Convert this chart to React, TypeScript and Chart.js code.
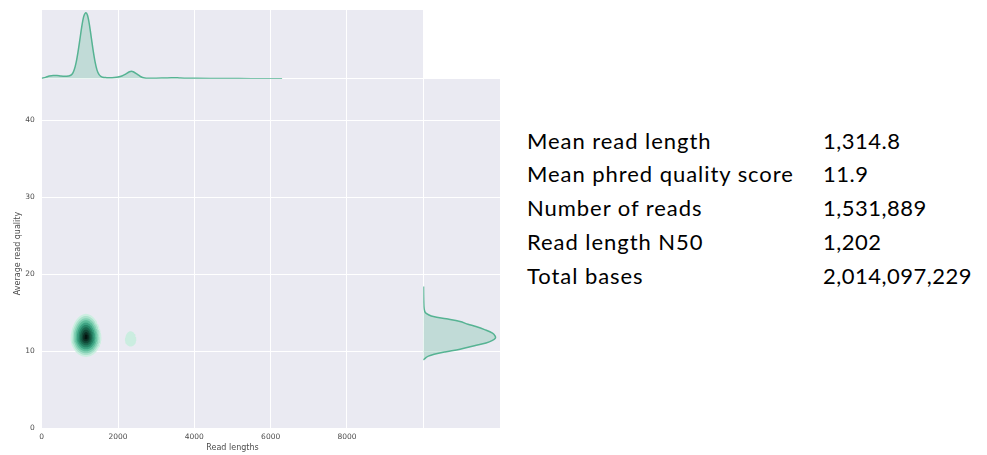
import React, { useEffect, useRef } from 'react';
import { Chart, registerables } from 'chart.js';

Chart.register(...registerables);

// ---------- data ----------
const lengthTicks = [0, 2000, 4000, 6000, 8000];
const lengthMax = 10000;
const qualityTicks = [0, 10, 20, 30, 40];
const qualityMax = 45.4;

// top marginal KDE of read length (relative density, peak = 1)
const topLengths = [0, 100, 200, 300, 400, 500, 600, 700, 800, 850, 900, 950, 1000, 1050, 1100, 1160, 1200, 1250, 1300, 1350, 1400, 1450, 1500, 1550, 1600, 1700, 1800, 1900, 2000, 2100, 2200, 2300, 2350, 2400, 2500, 2600, 2700, 2800, 3000, 3200, 3400, 3500, 3600, 3800, 4000, 4500, 5000, 5500, 6000, 6300];
const topDensity = [0.005, 0.02, 0.04, 0.05, 0.048, 0.04, 0.036, 0.04, 0.07, 0.13, 0.24, 0.4, 0.59, 0.79, 0.94, 1.0, 0.96, 0.82, 0.62, 0.42, 0.25, 0.13, 0.065, 0.035, 0.022, 0.016, 0.015, 0.018, 0.025, 0.04, 0.07, 0.105, 0.113, 0.105, 0.07, 0.03, 0.012, 0.008, 0.007, 0.01, 0.014, 0.015, 0.012, 0.007, 0.005, 0.003, 0.002, 0.001, 0.001, 0.0];
const topDensityMax = 1.04;

// right marginal KDE of average quality (relative density, peak = 1)
const rightQuality = [18.4, 17.5, 16.5, 15.5, 15.0, 14.7, 14.5, 14.2, 13.85, 13.5, 13.2, 12.8, 12.35, 12.0, 11.7, 11.4, 11.05, 10.7, 10.25, 9.9, 9.6, 9.35, 9.1, 8.85];
const rightDensity = [0.003, 0.004, 0.006, 0.012, 0.03, 0.08, 0.14, 0.32, 0.51, 0.62, 0.73, 0.85, 0.96, 0.995, 1.0, 0.96, 0.87, 0.71, 0.51, 0.3, 0.15, 0.07, 0.03, 0.0];
const rightDensityMax = 1.064;

// 2D KDE contour levels (main mode)
const mainCenterLength = 1160;
const mainCenterQuality = 11.85;
const mainHalfWidth = [405, 365, 325, 285, 245, 205, 165, 125, 85, 45];
const mainHalfHeightUp = [3.0, 2.72, 2.44, 2.16, 1.86, 1.56, 1.26, 0.95, 0.64, 0.33];
const mainHalfHeightDown = [2.6, 2.36, 2.12, 1.88, 1.62, 1.36, 1.1, 0.84, 0.57, 0.3];
const mainLevelColors = ['#cdeee1', '#ace2cd', '#86d2b6', '#5fbe9c', '#3da282', '#288567', '#1b684f', '#124b39', '#0b2f24', '#041410'];

// 2D KDE contour (secondary mode)
const minorCenterLength = 2330;
const minorCenterQuality = 11.55;
const minorHalfWidth = [150];
const minorHalfHeightUp = [1.05];
const minorHalfHeightDown = [0.95];
const minorLevelColors = ['#cbede0'];

// summary table
const statLabels = ['Mean read length', 'Mean phred quality score', 'Number of reads', 'Read length N50', 'Total bases'];
const statValues = ['1,314.8', '11.9', '1,531,889', '1,202', '2,014,097,229'];

// ---------- styling ----------
const PANEL_BG = '#EAEAF2';
const CURVE = '#56b393';
const CURVE_FILL = 'rgba(86,179,147,0.28)';
const TICK_COLOR = '#4d4d4d';
const TICK_FONT = { family: 'DejaVu Sans', size: 7.5 };
const TITLE_FONT = { family: 'DejaVu Sans', size: 8 };

const panelBg = {
  id: 'panelBg',
  beforeDraw(chart: any) {
    const { ctx, chartArea: a } = chart;
    ctx.save();
    ctx.fillStyle = PANEL_BG;
    ctx.fillRect(a.left, a.top, a.right - a.left, a.bottom - a.top);
    ctx.restore();
  },
};

function contourRing(cx: number, cy: number, rx: number, ryUp: number, ryDown: number) {
  const pts: { x: number; y: number }[] = [];
  const n = 72;
  for (let k = 0; k <= n; k++) {
    const t = (k / n) * Math.PI * 2;
    const s = Math.sin(t);
    const taper = s > 0 ? 1 - 0.1 * s : 1;
    pts.push({ x: cx + rx * taper * Math.cos(t), y: cy + (s > 0 ? ryUp : ryDown) * s });
  }
  return pts;
}

function buildContours() {
  const sets: any[] = [];
  const levels = mainHalfWidth.length;
  minorHalfWidth.forEach((rx, i) => {
    sets.push({
      data: contourRing(minorCenterLength, minorCenterQuality, rx, minorHalfHeightUp[i], minorHalfHeightDown[i]),
      showLine: true, fill: 'shape', borderWidth: 0, pointRadius: 0,
      backgroundColor: minorLevelColors[i], borderColor: 'transparent', order: levels + 1,
    });
  });
  mainHalfWidth.forEach((rx, i) => {
    sets.push({
      data: contourRing(mainCenterLength, mainCenterQuality, rx, mainHalfHeightUp[i], mainHalfHeightDown[i]),
      showLine: true, fill: 'shape', borderWidth: 0, pointRadius: 0,
      backgroundColor: mainLevelColors[i], borderColor: 'transparent', order: levels - i,
    });
  });
  return sets;
}

const setTicks = (vals: number[]) => (s: any) => {
  s.ticks = vals.map((v) => ({ value: v }));
};

const fitX = (h: number) => (s: any) => {
  s.height = h;
  s.paddingLeft = 0; s.paddingRight = 0; s.paddingTop = 0; s.paddingBottom = 0;
};
const fitY = (w: number) => (s: any) => {
  s.width = w;
  s.paddingLeft = 0; s.paddingRight = 0; s.paddingTop = 0; s.paddingBottom = 0;
};

export default function App() {
  const mainRef = useRef<HTMLCanvasElement>(null);
  const topRef = useRef<HTMLCanvasElement>(null);
  const rightRef = useRef<HTMLCanvasElement>(null);

  useEffect(() => {
    const common = {
      animation: false as const,
      responsive: false,
      devicePixelRatio: 1,
      events: [] as any[],
    };
    const noPlugins = { legend: { display: false }, tooltip: { enabled: false } };

    const main = new Chart(mainRef.current!, {
      type: 'scatter',
      data: { datasets: buildContours() },
      options: {
        ...common,
        layout: { padding: { left: 0, right: 6.7, top: 9, bottom: 0 } },
        plugins: noPlugins,
        scales: {
          x: {
            type: 'linear', min: 0, max: lengthMax,
            afterBuildTicks: setTicks([...lengthTicks, lengthMax]),
            afterFit: fitX(27),
            grid: { color: '#ffffff', lineWidth: 1, drawTicks: false },
            border: { display: false },
            ticks: {
              padding: 5, font: TICK_FONT, color: TICK_COLOR, maxRotation: 0, autoSkip: false,
              callback: (v: any) => (lengthTicks.includes(Number(v)) ? String(v) : ''),
            },
            title: { display: true, text: 'Read lengths', font: TITLE_FONT, color: TICK_COLOR, padding: { top: 0, bottom: 2 } },
          },
          y: {
            type: 'linear', min: 0, max: qualityMax,
            afterBuildTicks: setTicks(qualityTicks),
            afterFit: fitY(41.7),
            grid: { color: '#ffffff', lineWidth: 1, drawTicks: false },
            border: { display: false },
            ticks: { padding: 7, font: TICK_FONT, color: TICK_COLOR, autoSkip: false, callback: (v: any) => String(v) },
            title: { display: true, text: 'Average read quality', font: TITLE_FONT, color: TICK_COLOR, padding: { top: 13, bottom: 0 } },
          },
        },
      } as any,
      plugins: [panelBg],
    });

    const top = new Chart(topRef.current!, {
      type: 'scatter',
      data: {
        datasets: [{
          data: topLengths.map((x, i) => ({ x, y: topDensity[i] })),
          showLine: true, fill: 'origin', pointRadius: 0, borderWidth: 1.5,
          borderColor: CURVE, backgroundColor: CURVE_FILL, cubicInterpolationMode: 'monotone',
        }],
      },
      options: {
        ...common,
        layout: { padding: { left: 41.7, right: 6.7, top: 10, bottom: 1.3 } },
        plugins: noPlugins,
        scales: {
          x: {
            type: 'linear', min: 0, max: lengthMax,
            afterBuildTicks: setTicks([...lengthTicks, lengthMax]),
            afterFit: fitX(0),
            grid: { color: '#ffffff', lineWidth: 1, drawTicks: false },
            border: { display: false },
            ticks: { display: false },
          },
          y: {
            type: 'linear', min: 0, max: topDensityMax,
            afterBuildTicks: setTicks([0]),
            afterFit: fitY(0),
            grid: { color: '#ffffff', lineWidth: 1, drawTicks: false },
            border: { display: false },
            ticks: { display: false },
          },
        },
      } as any,
      plugins: [panelBg],
    });

    const right = new Chart(rightRef.current!, {
      type: 'scatter',
      data: {
        datasets: [{
          data: rightQuality.map((q, i) => ({ x: rightDensity[i], y: q })),
          showLine: true, fill: 'shape', pointRadius: 0, borderWidth: 1.5,
          borderColor: CURVE, backgroundColor: CURVE_FILL, tension: 0.35,
        }],
      },
      options: {
        ...common,
        layout: { padding: { left: 3.3, right: 10, top: 9, bottom: 12 } },
        plugins: noPlugins,
        scales: {
          x: {
            type: 'linear', min: 0, max: rightDensityMax,
            afterBuildTicks: setTicks([0]),
            afterFit: fitX(0),
            grid: { color: '#ffffff', lineWidth: 1, drawTicks: false },
            border: { display: false },
            ticks: { display: false },
          },
          y: {
            type: 'linear', min: 0, max: qualityMax,
            afterBuildTicks: setTicks(qualityTicks),
            afterFit: fitY(0),
            grid: { color: '#ffffff', lineWidth: 1, drawTicks: false },
            border: { display: false },
            ticks: { display: false },
          },
        },
      } as any,
      plugins: [panelBg],
    });

    return () => {
      main.destroy();
      top.destroy();
      right.destroy();
    };
  }, []);

  const abs = (l: number, t: number, w: number, h: number): React.CSSProperties => ({
    position: 'absolute', left: l, top: t, width: w, height: h,
  });

  const textCol = (left: number, spacing: number): React.CSSProperties => ({
    position: 'absolute', left, top: 123.6, fontFamily: 'Lato, sans-serif', fontSize: 22,
    lineHeight: '33.75px', color: '#000', letterSpacing: spacing, whiteSpace: 'nowrap',
  });

  return (
    <div style={{ position: 'absolute', left: 0, top: 0, width: 987, height: 455, background: '#ffffff', overflow: 'hidden' }}>
      <canvas ref={topRef} width={430} height={80} style={abs(0, 0, 430, 80)} />
      <canvas ref={mainRef} width={430} height={385} style={abs(0, 70, 430, 385)} />
      <canvas ref={rightRef} width={90} height={370} style={abs(420, 70, 90, 370)} />
      <div style={textCol(527, 0.95)}>
        {statLabels.map((l) => (<div key={l}>{l}</div>))}
      </div>
      <div style={textCol(823, 0.5)}>
        {statValues.map((v) => (<div key={v}>{v}</div>))}
      </div>
    </div>
  );
}
